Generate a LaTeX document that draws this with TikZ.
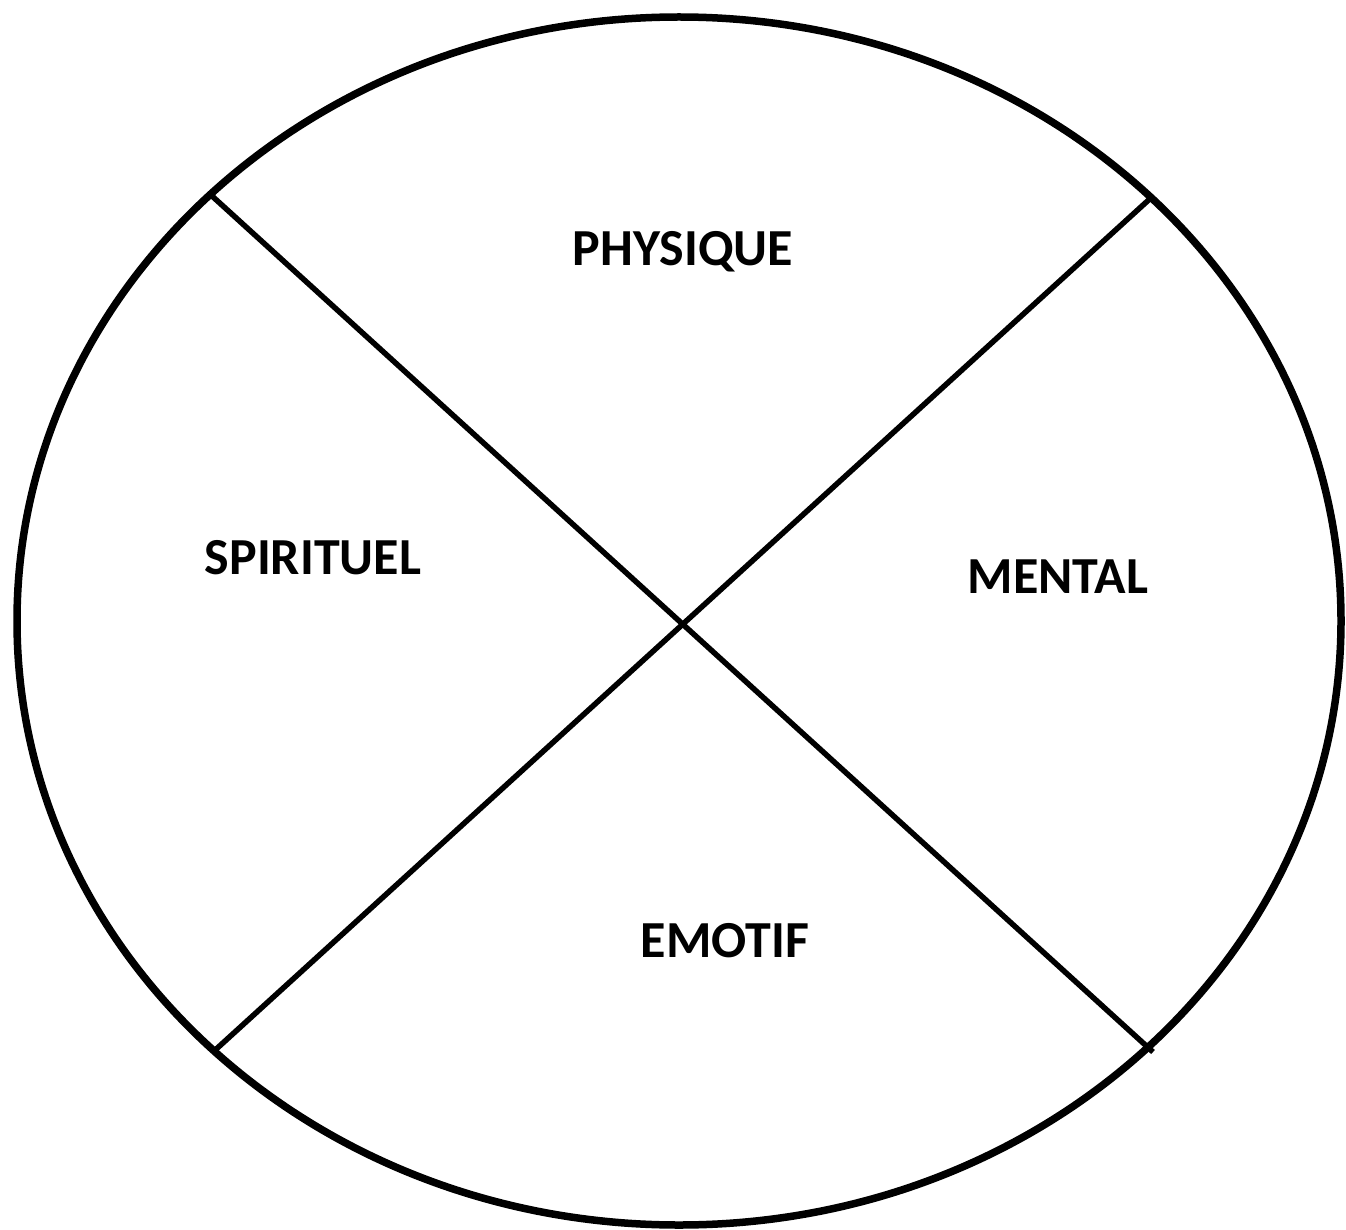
\documentclass[tikz,border=0pt]{standalone}
\usepackage{fontspec}
\setmainfont{Carlito}
\begin{document}
\begin{tikzpicture}[x=1pt,y=-1pt,
  lbl/.style={font=\fontsize{52}{60}\selectfont\bfseries, anchor=base, inner sep=0pt},
  divider/.style={line width=5.5pt}]
\useasboundingbox (0,0) rectangle (1346,1230);
\draw[line width=7.5pt] (679,621) ellipse [x radius=662, y radius=-604];
\coordinate (tl) at (212,196);
\coordinate (br) at (1153,1052);
\coordinate (tr) at (1153,196);
\coordinate (bl) at (213,1052);
\draw[divider] (tl) -- (br);
\draw[divider] (tr) -- (bl);
\node[lbl] (phys) at (683,266) {PHYSIQUE};
\node[lbl] (spir) at (313,574) {SPIRITUEL};
\node[lbl] (ment) at (1058,593) {MENTAL};
\node[lbl] (emot) at (725,957) {EMOTIF};
\end{tikzpicture}
\end{document}
